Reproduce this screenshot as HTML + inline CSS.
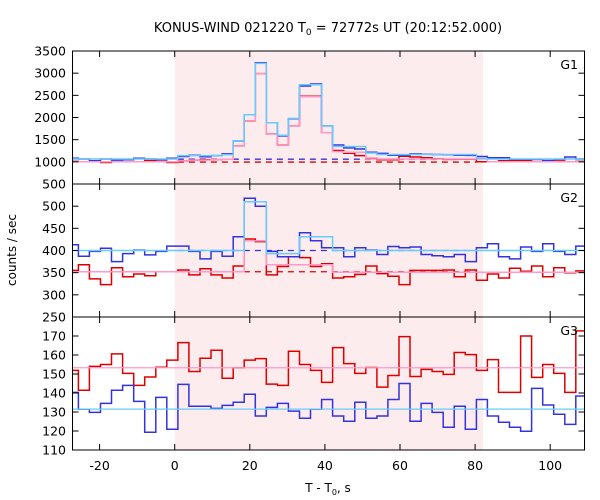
<!DOCTYPE html>
<html><head><meta charset="utf-8"><style>
body{margin:0;background:#fff}
svg{display:block;font-family:"DejaVu Sans","Liberation Sans",sans-serif}
</style></head><body>
<svg id="chart" width="600" height="500" viewBox="0 0 600 500" xmlns="http://www.w3.org/2000/svg">
<text x="328" y="32" font-size="13" text-anchor="middle">KONUS-WIND 021220 T<tspan font-size="9" dy="3">0</tspan><tspan dy="-3"> = 72772s UT (20:12:52.000)</tspan></text>
<text x="0" y="0" font-size="12" text-anchor="middle" transform="translate(16,250) rotate(-90)">counts / sec</text>
<text x="328" y="492" font-size="12" text-anchor="middle">T - T<tspan font-size="8" dy="3">0</tspan><tspan dy="-3">, s</tspan></text>
<defs><clipPath id="pc"><rect x="72.5" y="51" width="512" height="399"/></clipPath></defs>
<g id="shade"></g><g id="marks" clip-path="url(#pc)"></g><g id="axes"></g>
</svg>
<script>
const binStart = -28.594;
const binWidth = 2.944;
const shadeRange = [0, 82.1];
const xTicks = [-20, 0, 20, 40, 60, 80, 100];
const g1Ticks = [500, 1000, 1500, 2000, 2500, 3000, 3500];
const g2Ticks = [250, 300, 350, 400, 450, 500];
const g3Ticks = [110, 120, 130, 140, 150, 160, 170];
const g1Blue = [1080,1065,1025,1065,1040,1045,1080,1065,1050,1080,1120,1150,1115,1140,1180,1470,2060,3235,1880,1585,1970,2710,2755,1810,1380,1315,1290,1215,1190,1150,1150,1180,1170,1165,1160,1150,1145,1120,1090,1090,1060,1060,1055,1030,1060,1110,1065];
const g1LightBlue = [1065,1065,1065,1065,1065,1065,1065,1065,1065,1065,1140,1140,1140,1140,1160,1470,2060,3220,1880,1600,1980,2740,2740,1810,1345,1345,1345,1200,1165,1165,1165,1165,1165,1165,1165,1165,1165,1075,1065,1065,1065,1065,1065,1065,1065,1065,1065];
const g1Red = [1010,1000,1000,985,1000,1000,1000,1030,1010,985,1020,1040,1050,1050,1060,1360,1920,2990,1630,1380,1810,2480,2480,1655,1255,1195,1140,1075,1045,1045,1125,1110,1090,1070,1055,1060,1060,1000,1000,1025,1025,1030,1005,1000,1020,1000,1010];
const g1Pink = [1000,1000,1000,1000,1000,1000,1000,1000,1000,1000,1020,1040,1040,1050,1060,1360,1920,2990,1630,1380,1810,2470,2470,1655,1230,1215,1215,1065,1065,1065,1065,1065,1065,1065,1065,1065,1065,1065,1000,1000,1000,1000,1000,1000,1000,1000,1000];
const g1Levels = [1060, 995];
const g2Blue = [413,387,398,405,375,393,401,390,398,410,410,398,381,398,387,431,518,500,398,386,386,440,422,406,406,386,406,401,391,409,406,408,391,388,386,391,375,406,415,386,381,408,398,415,398,391,410];
const g2LightBlue = [400,400,400,400,400,400,400,400,400,400,400,400,400,400,400,400,510,510,393,393,393,431,431,431,400,400,400,400,400,400,400,400,400,400,400,400,400,400,400,400,400,400,400,400,400,400,400];
const g2Red = [355,368,336,323,361,341,347,343,352,352,356,345,359,345,338,365,426,420,345,364,386,384,364,370,338,341,346,365,348,342,323,355,355,355,356,341,356,333,347,338,360,353,365,341,361,350,354];
const g2Pink = [352,352,352,352,352,352,352,352,352,352,352,352,352,352,352,352,422,422,368,368,368,368,368,368,351,351,351,351,351,351,351,351,351,351,351,351,351,351,351,351,351,351,351,351,351,351,351];
const g2Levels = [400, 352];
const g3Red = [151.9,141.4,154,155,160.6,150.3,144,148.4,153.6,157.3,166.5,151.3,158.3,162.5,147.8,153.3,157.3,158.1,144.7,144,162,155,151.9,145.6,163.9,155.5,150.3,153.4,143.1,149.2,169.7,148.7,152.4,151.3,149.8,161.3,160.2,151.9,157.6,140.3,140.3,170,148.2,155,150.3,140.3,172.7];
const g3Blue = [140.3,131.4,129.8,134.5,141.4,144,135.6,119.3,137.7,120.9,144.5,133,133,131.9,133.5,135.1,139.3,127.9,132.4,134.5,130.5,126.7,131.4,136.6,127.9,125.1,135.1,126.7,127.9,136.6,145,125.1,134.5,129.8,122,133,120.9,136.6,127.9,124.6,122,119.9,142.4,133.7,128.8,123.5,138.4];
const g3Levels = [153.3, 131.5];

const NS = "http://www.w3.org/2000/svg";
const X0 = 72.5, X1 = 584.5;
function xs(t){ return 174.7 + t*3.755; }
function mkScale(v0,y0,v1,y1){ return v => y0 + (v-v0)*(y1-y0)/(v1-v0); }
const panels = [
  {name:"g1", top:51, bot:184, s:mkScale(500,184,3500,51), ticks:g1Ticks, label:"G1"},
  {name:"g2", top:184, bot:317, s:mkScale(250,317,550,184), ticks:g2Ticks, label:"G2"},
  {name:"g3", top:317, bot:450, s:mkScale(110,450,180,317), ticks:g3Ticks, label:"G3"}
];
function el(tag, attrs, parent){ const e=document.createElementNS(NS,tag); for(const k in attrs) e.setAttribute(k,attrs[k]); parent.appendChild(e); return e; }
const marks=document.getElementById('marks'), axes=document.getElementById('axes'), shade=document.getElementById('shade');

const sh = el('rect',{x:xs(shadeRange[0]),y:51,width:xs(shadeRange[1])-xs(shadeRange[0]),height:399,fill:'#fdeced'},shade);



function stepPath(vals, s){
  let d='';
  vals.forEach((v,j)=>{
    const a=xs(binStart+j*binWidth), b=xs(binStart+(j+1)*binWidth), y=s(v).toFixed(1);
    d += (j===0?'M':'L')+a.toFixed(1)+','+y+'H'+b.toFixed(1);
  });
  return d;
}
function series(vals, s, color, name){
  const p=el('path',{d:stepPath(vals,s),fill:'none',stroke:color,'stroke-width':1.5},marks);
  
  
}
function dashed(v, s, color, name, full){
  const a = full ? X0 : xs(binStart+10*binWidth), b = full ? X1 : xs(binStart+37*binWidth);
  const l=el('line',{x1:a,x2:b,y1:s(v),y2:s(v),stroke:color,'stroke-width':1.3,'stroke-dasharray':full?'':'6,5'},marks);
  
  
}
const P1=panels[0].s, P2=panels[1].s, P3=panels[2].s;
dashed(g1Levels[0],P1,'#3333dd','g1-blue-background',false);
dashed(g1Levels[1],P1,'#dd0000','g1-red-background',false);
series(g1Red,P1,'#dd0000','g1-red-series');
series(g1Blue,P1,'#3333dd','g1-blue-series');
series(g1Pink,P1,'#ff99cc','g1-pink-series');
series(g1LightBlue,P1,'#66ccff','g1-lightblue-series');
dashed(g2Levels[0],P2,'#3333dd','g2-blue-background',false);
dashed(g2Levels[1],P2,'#dd0000','g2-red-background',false);
series(g2Red,P2,'#dd0000','g2-red-series');
series(g2Blue,P2,'#3333dd','g2-blue-series');
series(g2Pink,P2,'#ff99cc','g2-pink-series');
series(g2LightBlue,P2,'#66ccff','g2-lightblue-series');
series(g3Red,P3,'#dd0000','g3-red-series');
series(g3Blue,P3,'#3333dd','g3-blue-series');
dashed(g3Levels[0],P3,'#ff99cc','g3-pink-level',true);
dashed(g3Levels[1],P3,'#66ccff','g3-lightblue-level',true);

panels.forEach((p,i)=>{
  const fr=el('rect',{x:X0,y:p.top,width:X1-X0,height:p.bot-p.top,fill:'none',stroke:'#000','stroke-width':1},axes);
  
  
  xTicks.forEach(t=>{
    const x=xs(t);
    el('line',{x1:x,x2:x,y1:p.top,y2:p.top+6,stroke:'#000'},axes);
    el('line',{x1:x,x2:x,y1:p.bot,y2:p.bot-6,stroke:'#000'},axes);
  });
  p.ticks.forEach(v=>{
    const y=p.s(v);
    el('line',{x1:X0,x2:X0+6,y1:y,y2:y,stroke:'#000'},axes);
    el('line',{x1:X1,x2:X1-6,y1:y,y2:y,stroke:'#000'},axes);
    const tl=el('text',{x:66,y:y+4.5,'font-size':12.5,'text-anchor':'end'},axes);
    tl.textContent=v;
    
    
  });
  const gl=el('text',{x:578,y:p.top+18,'font-size':12.5,'text-anchor':'end'},axes);
  gl.textContent=p.label;
  
  
});
xTicks.forEach(t=>{
  const tl=el('text',{x:xs(t),y:470,'font-size':12.5,'text-anchor':'middle'},axes);
  tl.textContent=t;
  
  
});
</script>
</body></html>
